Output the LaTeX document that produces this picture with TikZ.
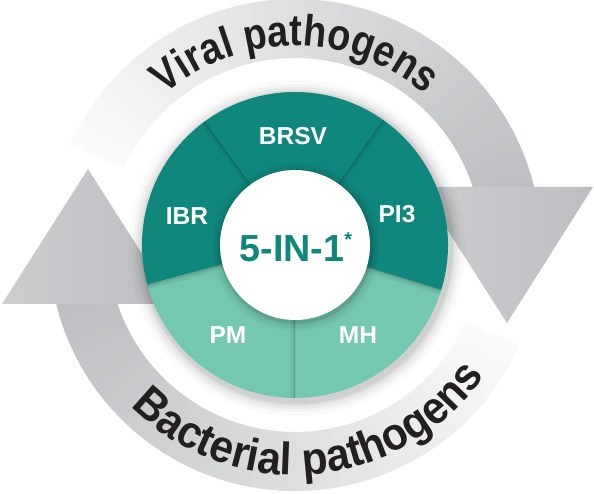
\documentclass[tikz,border=0pt]{standalone}
\usepackage{fontspec}
\setmainfont{Liberation Sans}
\newfontfamily\arcfont[FakeStretch=0.86]{Liberation Sans}
\newfontfamily\arcfontwide[FakeStretch=0.93]{Liberation Sans}
\usetikzlibrary{decorations.text}
\definecolor{tealdark}{RGB}{16,135,124}
\definecolor{teallight}{RGB}{116,199,176}
\definecolor{arrowgray}{RGB}{189,190,193}
\definecolor{headlight}{RGB}{204,205,207}
\definecolor{txtblack}{RGB}{35,31,32}
\begin{document}
\begin{tikzpicture}[x=1pt,y=1pt,
  seglabel/.style={text=white, font=\bfseries\fontsize{24.5}{24.5}\selectfont, inner sep=0pt},
  centrelabel/.style={text=tealdark, font=\bfseries\fontsize{37.7}{37.7}\selectfont, inner sep=0pt},
  headshape/.style={draw=none, left color=headlight, right color=arrowgray},
  segshadow/.style={black, line cap=butt},
]
\useasboundingbox (-295,-249) rectangle (299,245);

% ---- top band (viral), clockwise from tail at 156 deg to the head
\foreach \i in {0,...,79}{
  \pgfmathsetmacro\aa{156-\i*(156-13.5)/80}
  \pgfmathsetmacro\ab{156-(\i+1)*(156-13.5)/80-0.4}
  \pgfmathtruncatemacro\pp{8+92*\i/79}
  \fill[arrowgray!\pp!white] (\aa:187pt) arc[start angle=\aa, end angle=\ab, radius=187pt]
     -- (\ab:246pt) arc[start angle=\ab, end angle=\aa, radius=246pt] -- cycle;
}
% ---- bottom band (bacterial), clockwise from tail at -24 deg to the head
\foreach \i in {0,...,79}{
  \pgfmathsetmacro\aa{-24-\i*(166.5-24)/80}
  \pgfmathsetmacro\ab{-24-(\i+1)*(166.5-24)/80-0.4}
  \pgfmathtruncatemacro\pp{8+92*\i/79}
  \fill[arrowgray!\pp!white] (\aa:187pt) arc[start angle=\aa, end angle=\ab, radius=187pt]
     -- (\ab:246pt) arc[start angle=\ab, end angle=\aa, radius=246pt] -- cycle;
}
% ---- arrow heads
\shade[headshape] (125,58) -- (298,58) -- (212,-78) -- cycle;
\shade[headshape] (-293,-59) -- (-121,-59) -- (-207,76) -- cycle;

% ---- curved texts
\path[decorate, decoration={text along path, text align=center,
  text={|\color{txtblack}\arcfont\bfseries\fontsize{44}{44}\selectfont|Viral pathogens}}]
  (160:199pt) arc[start angle=160, end angle=20, radius=199pt];
\path[decorate, decoration={text along path, text align=center,
  text={|\color{txtblack}\arcfontwide\bfseries\fontsize{45.5}{45.5}\selectfont|Bacterial pathogens}}]
  (205:230pt) arc[start angle=205, end angle=345, radius=230pt];

% ---- disc shadow
\foreach \r/\o in {168/0.02, 164/0.03, 161/0.04, 158/0.05, 156/0.06}{
  \fill[black, opacity=\o] (2,-3) circle[radius=\r pt];
}
% ---- segments
\fill[tealdark]  (0,0) -- (55:153pt)  arc[start angle=55,  end angle=126, radius=153pt] -- cycle;
\fill[tealdark]  (0,0) -- (126:153pt) arc[start angle=126, end angle=195, radius=153pt] -- cycle;
\fill[teallight] (0,0) -- (195:153pt) arc[start angle=195, end angle=270, radius=153pt] -- cycle;
\fill[teallight] (0,0) -- (270:153pt) arc[start angle=270, end angle=343, radius=153pt] -- cycle;
\fill[tealdark]  (0,0) -- (343:153pt) arc[start angle=343, end angle=415, radius=153pt] -- cycle;

% ---- soft shadows along the segment edges
\newcommand{\segshade}[3]{%
  \begin{scope}
    \clip (0,0) -- (#1:153pt) arc[start angle=#1, end angle=#2, radius=153pt] -- cycle;
    \draw[segshadow, opacity=0.05, line width=10pt] (0,0) -- (#3:153pt);
    \draw[segshadow, opacity=0.07, line width=5pt] (0,0) -- (#3:153pt);
    \draw[segshadow, opacity=0.08, line width=2pt] (0,0) -- (#3:153pt);
  \end{scope}}
\segshade{126}{195}{126}
\segshade{-17}{55}{55}
\segshade{270}{343}{343}
\segshade{195}{270}{270}
\segshade{195}{270}{195}

% ---- inner circle with shadow
\begin{scope}
  \clip (0,0) circle[radius=153pt];
  \foreach \r/\o in {84/0.03, 81/0.04, 78/0.06, 76.5/0.07}{
    \fill[black, opacity=\o] (1,-2) circle[radius=\r pt];
  }
\end{scope}
\fill[white] (0,0) circle[radius=75pt];

% ---- labels
\node[seglabel] (brsv) at (-2,109) {BRSV};
\node[seglabel] (ibr)  at (-108,29) {IBR};
\node[seglabel] (pi3)  at (102,31) {PI3};
\node[seglabel] (pm)   at (-67,-90) {PM};
\node[seglabel] (mh)   at (63,-90) {MH};
\node[centrelabel] (five) at (-3,-2) {5-IN-1\rlap{\raisebox{15pt}{\fontsize{20}{20}\selectfont *}}};
\end{tikzpicture}
\end{document}
